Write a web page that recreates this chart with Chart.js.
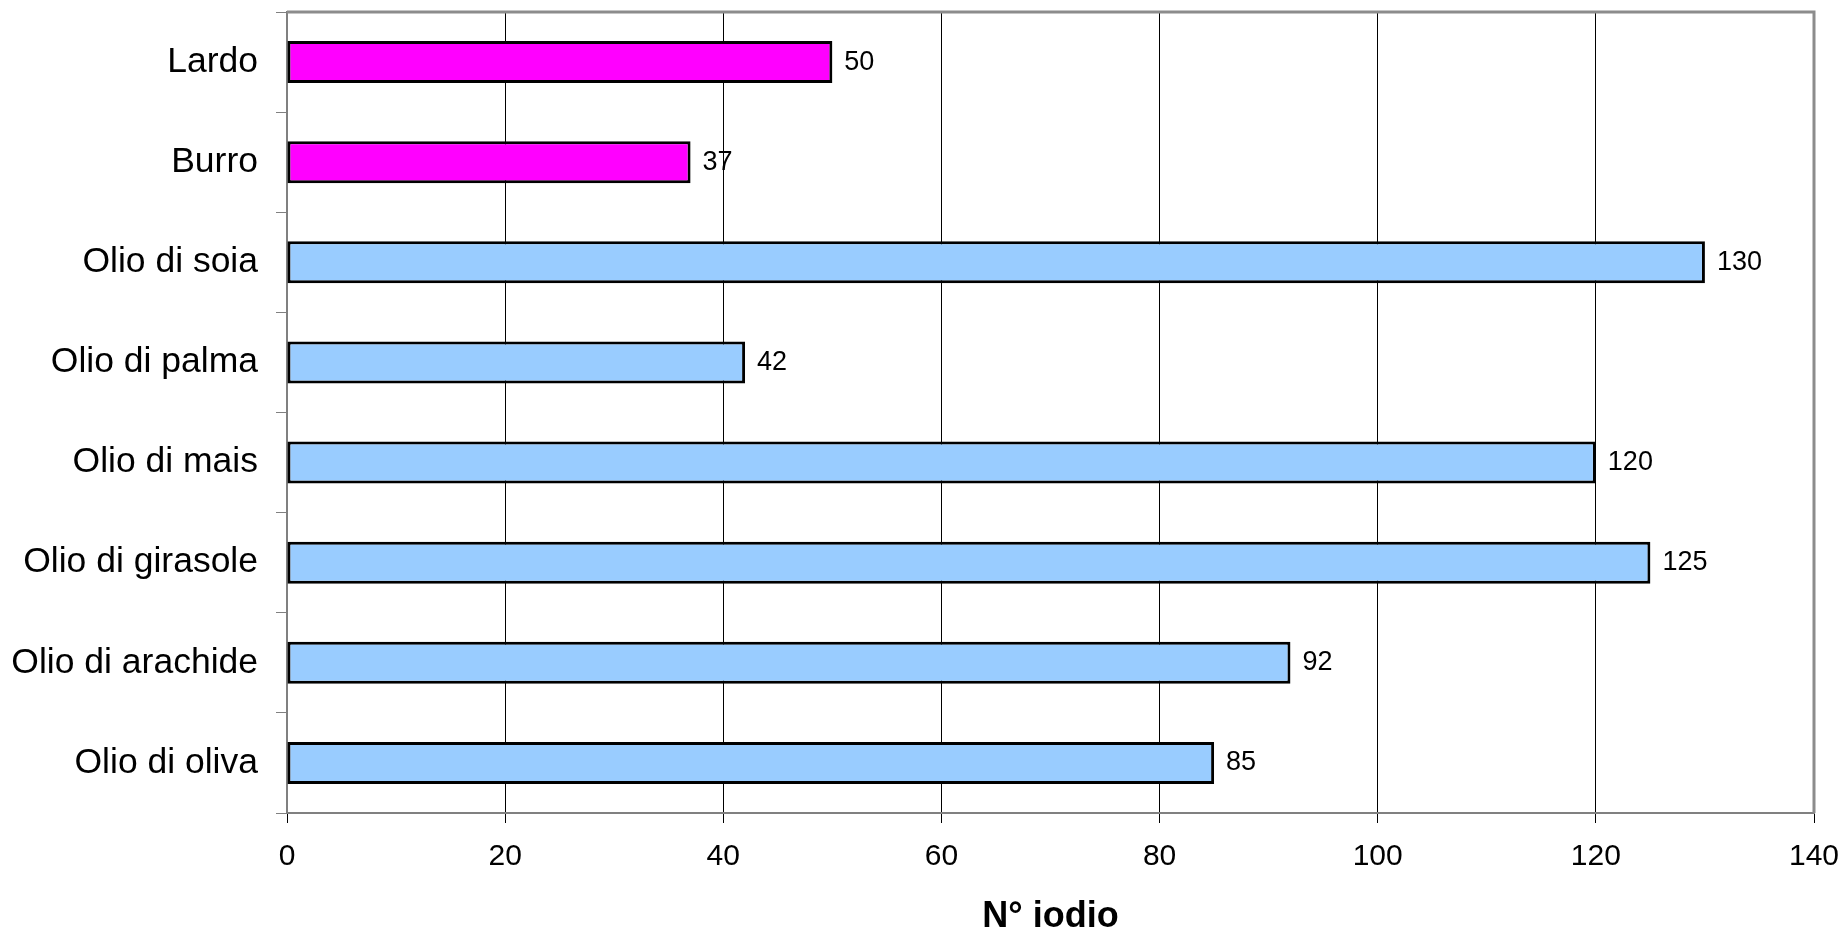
<!DOCTYPE html>
<html lang="it">
<head>
<meta charset="utf-8">
<title>N° iodio</title>
<script src="https://cdn.jsdelivr.net/npm/chart.js@4/dist/chart.umd.min.js"></script>
<style>
  html, body { margin: 0; padding: 0; background: #ffffff; }
  #wrap { width: 1845px; height: 931px; }
</style>
</head>
<body>
<div id="wrap"><canvas id="myChart" width="1845" height="931"></canvas></div>
<script>
// === Dati ===
const categorie = ['Lardo', 'Burro', 'Olio di soia', 'Olio di palma', 'Olio di mais', 'Olio di girasole', 'Olio di arachide', 'Olio di oliva'];
const origine = ['animale', 'animale', 'vegetale', 'vegetale', 'vegetale', 'vegetale', 'vegetale', 'vegetale'];
const numeroIodio = [50, 37, 130, 42, 120, 125, 92, 85];
const tickX = [0, 20, 40, 60, 80, 100, 120, 140];

const coloriOrigine = {
  animale: '#ff00ff',
  vegetale: '#99ccff'
};

const FONT = "'Liberation Sans', Arial, sans-serif";

// etichette con il valore a destra di ogni barra
const valoriPlugin = {
  id: 'valori',
  afterDatasetsDraw(chart) {
    const ctx = chart.ctx;
    const meta = chart.getDatasetMeta(0);
    ctx.save();
    ctx.font = '27px ' + FONT;
    ctx.fillStyle = '#000000';
    ctx.textAlign = 'left';
    ctx.textBaseline = 'middle';
    meta.data.forEach((bar, i) => {
      ctx.fillText(String(numeroIodio[i]), bar.x + 12, bar.y);
    });
    ctx.restore();
  }
};

// cornice grigia sopra e a destra dell'area del grafico
const cornicePlugin = {
  id: 'cornice',
  afterDraw(chart) {
    const { ctx, chartArea } = chart;
    ctx.save();
    ctx.strokeStyle = '#8c8c8c';
    ctx.lineWidth = 3;
    ctx.beginPath();
    ctx.moveTo(chartArea.left, chartArea.top);
    ctx.lineTo(chartArea.right, chartArea.top);
    ctx.lineTo(chartArea.right, chartArea.bottom);
    ctx.stroke();
    ctx.restore();
  }
};

const ctx = document.getElementById('myChart').getContext('2d');
new Chart(ctx, {
  type: 'bar',
  data: {
    labels: categorie,
    datasets: [{
      label: 'N° iodio',
      data: numeroIodio,
      backgroundColor: origine.map(o => coloriOrigine[o]),
      borderColor: '#000000',
      borderWidth: 3,
      borderSkipped: false,
      categoryPercentage: 1,
      barPercentage: 0.42
    }]
  },
  plugins: [valoriPlugin, cornicePlugin],
  options: {
    indexAxis: 'y',
    responsive: false,
    animation: false,
    layout: {
      padding: { top: 12, right: 31, left: 0, bottom: 0 }
    },
    plugins: {
      legend: { display: false },
      tooltip: { enabled: false },
      title: { display: false }
    },
    scales: {
      x: {
        min: 0,
        max: 140,
        afterBuildTicks: scale => {
          scale.ticks = tickX.map(v => ({ value: v }));
        },
        afterFit: scale => {
          scale.height = 118;
          scale.paddingLeft = 0;
          scale.paddingRight = 0;
        },
        grid: {
          color: '#000000',
          lineWidth: 1,
          tickLength: 10
        },
        border: {
          color: '#808080',
          width: 2
        },
        ticks: {
          padding: 16,
          color: '#000000',
          font: { family: FONT, size: 30 }
        },
        title: {
          display: true,
          text: 'N° iodio',
          color: '#000000',
          padding: { top: 0, bottom: 0 },
          font: { family: FONT, size: 36, weight: 'bold', lineHeight: 0.75 }
        }
      },
      y: {
        afterFit: scale => {
          scale.width = 287;
          scale.paddingTop = 0;
          scale.paddingBottom = 0;
        },
        grid: {
          drawOnChartArea: false,
          color: '#808080',
          tickLength: 11
        },
        border: {
          color: '#808080',
          width: 2
        },
        ticks: {
          padding: 18,
          color: '#000000',
          font: { family: FONT, size: 35.5 }
        }
      }
    }
  }
});
</script>
</body>
</html>
